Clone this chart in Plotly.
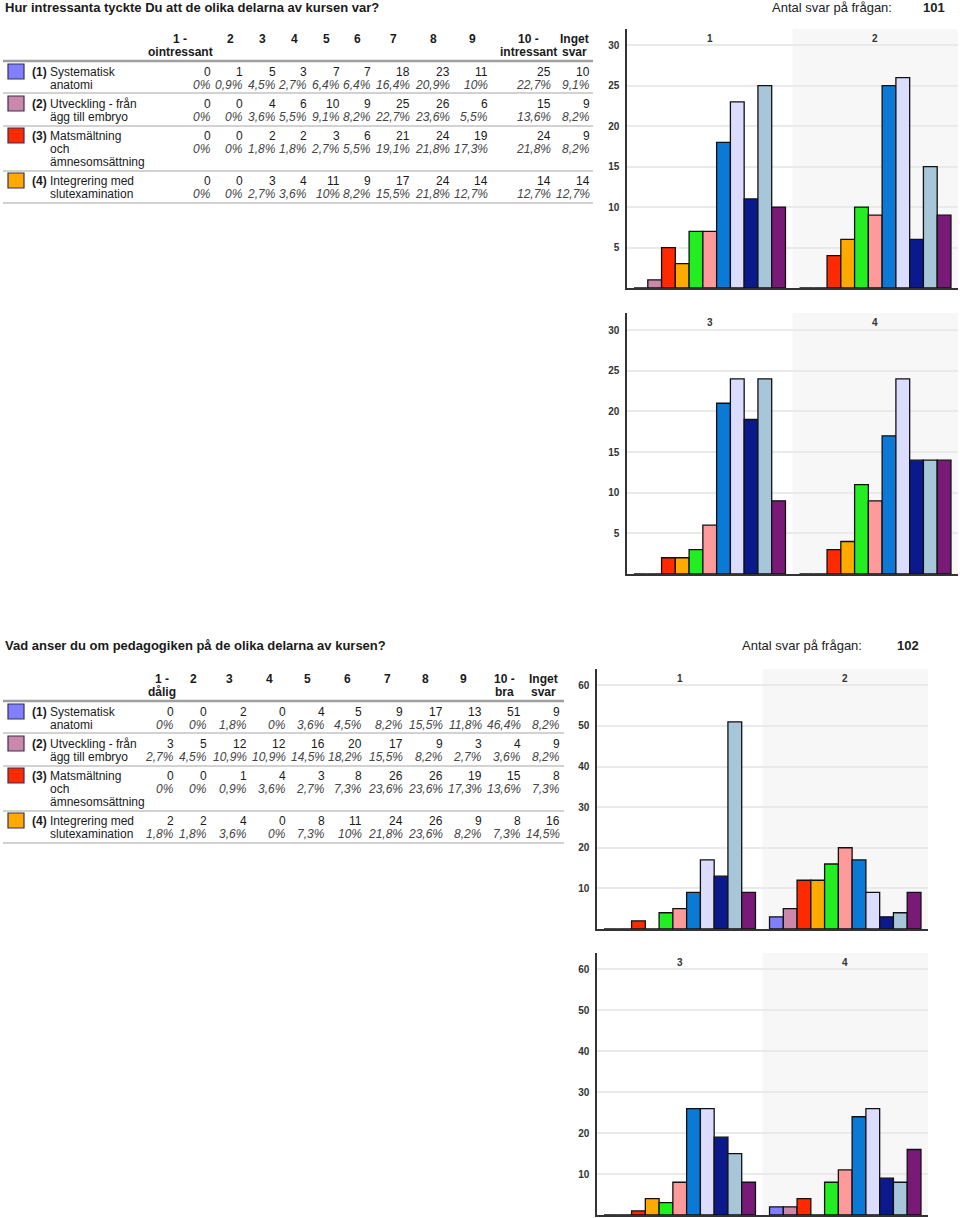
import plotly.graph_objects as go

W, H = 960, 1218

# ---------------- data ----------------
questions = [
    "Hur intressanta tyckte Du att de olika delarna av kursen var?",
    "Vad anser du om pedagogiken på de olika delarna av kursen?",
]
answer_counts_total = ["101", "102"]

header_top = [
    ["1 -", "2", "3", "4", "5", "6", "7", "8", "9", "10 -", "Inget"],
    ["1 -", "2", "3", "4", "5", "6", "7", "8", "9", "10 -", "Inget"],
]
header_bot = [
    ["ointressant", "", "", "", "", "", "", "", "", "intressant", "svar"],
    ["dålig", "", "", "", "", "", "", "", "", "bra", "svar"],
]

section_ids = ["(1)", "(2)", "(3)", "(4)"]
section_names = [
    ["Systematisk", "anatomi"],
    ["Utveckling - från", "ägg till embryo"],
    ["Matsmältning", "och", "ämnesomsättning"],
    ["Integrering med", "slutexamination"],
]
panel_labels = ["1", "2", "3", "4"]

q1_counts = [
    [0, 1, 5, 3, 7, 7, 18, 23, 11, 25, 10],
    [0, 0, 4, 6, 10, 9, 25, 26, 6, 15, 9],
    [0, 0, 2, 2, 3, 6, 21, 24, 19, 24, 9],
    [0, 0, 3, 4, 11, 9, 17, 24, 14, 14, 14],
]
q1_pct = [
    ["0%", "0,9%", "4,5%", "2,7%", "6,4%", "6,4%", "16,4%", "20,9%", "10%", "22,7%", "9,1%"],
    ["0%", "0%", "3,6%", "5,5%", "9,1%", "8,2%", "22,7%", "23,6%", "5,5%", "13,6%", "8,2%"],
    ["0%", "0%", "1,8%", "1,8%", "2,7%", "5,5%", "19,1%", "21,8%", "17,3%", "21,8%", "8,2%"],
    ["0%", "0%", "2,7%", "3,6%", "10%", "8,2%", "15,5%", "21,8%", "12,7%", "12,7%", "12,7%"],
]
q2_counts = [
    [0, 0, 2, 0, 4, 5, 9, 17, 13, 51, 9],
    [3, 5, 12, 12, 16, 20, 17, 9, 3, 4, 9],
    [0, 0, 1, 4, 3, 8, 26, 26, 19, 15, 8],
    [2, 2, 4, 0, 8, 11, 24, 26, 9, 8, 16],
]
q2_pct = [
    ["0%", "0%", "1,8%", "0%", "3,6%", "4,5%", "8,2%", "15,5%", "11,8%", "46,4%", "8,2%"],
    ["2,7%", "4,5%", "10,9%", "10,9%", "14,5%", "18,2%", "15,5%", "8,2%", "2,7%", "3,6%", "8,2%"],
    ["0%", "0%", "0,9%", "3,6%", "2,7%", "7,3%", "23,6%", "23,6%", "17,3%", "13,6%", "7,3%"],
    ["1,8%", "1,8%", "3,6%", "0%", "7,3%", "10%", "21,8%", "23,6%", "8,2%", "7,3%", "14,5%"],
]
counts = [q1_counts, q2_counts]
pcts = [q1_pct, q2_pct]

# ---------------- styles ----------------
cat_colors = ["#8080ff", "#cc88aa", "#ff2a00", "#ffaa00", "#22ee22", "#ff9a9a",
              "#0a7ad6", "#dcdcff", "#0a1a8c", "#a8c6da", "#7a1a78"]
FONT = "Liberation Sans, Arial, sans-serif"
NARROW = "Liberation Sans Narrow, Arial Narrow, Liberation Sans, sans-serif"

def px(x):
    return x / W

def py(y):
    return 1 - y / H

# layout geometry in pixels
q_off = [0, 640]
col_right = [
    [212, 244, 277, 308, 341, 372, 411, 451, 489, 552, 591],
    [175, 208, 248, 287, 326, 363, 404, 444, 483, 522, 561],
]
col_center = [
    [180, 230, 262, 294, 326, 357, 393, 433, 472, 528, 574],
    [162, 193, 229, 269, 307, 347, 387, 425, 463, 505, 543],
]
table_right = [593, 564]
row_y = [72, 104, 136, 181]
sep_y = [93, 126, 171, 203]

# chart geometry: (x0, x1, ytop, ybottom)
charts = [
    (627, 958, 29, 288),
    (627, 958, 313, 574),
    (597, 928, 669, 929),
    (597, 928, 953, 1215),
]
yranges = [[0, 32], [0, 32.1], [0, 64], [0, 64]]
ytick_sets = [[5, 10, 15, 20, 25, 30], [5, 10, 15, 20, 25, 30],
              [10, 20, 30, 40, 50, 60], [10, 20, 30, 40, 50, 60]]

fig = go.Figure()
annotations = []
shapes = []

def text(x, y, t, size=12, anchor="left", bold=False, italic=False, color="#1a1a1a", family=FONT):
    annotations.append(dict(
        x=px(x), y=py(y), xref="paper", yref="paper", text=t, showarrow=False,
        xanchor=anchor, yanchor="middle",
        font=dict(family=family, size=size, color=color,
                  weight="bold" if bold else "normal",
                  style="italic" if italic else "normal"),
    ))

for q in range(2):
    o = q_off[q]
    tyo = 8 if q == 0 else 645
    text(3, tyo, questions[q], size=13, bold=True)
    ax = 770 if q == 0 else 740
    nx = 947 if q == 0 else 921
    text(ax, tyo, "Antal svar på frågan:", size=13, color="#222")
    text(nx, tyo, answer_counts_total[q], size=13, bold=True, anchor="right", color="#222")

    # header
    for j in range(11):
        text(col_center[q][j], 39 + o, header_top[q][j], bold=True, anchor="center")
        if header_bot[q][j]:
            text(col_center[q][j], 52 + o, header_bot[q][j], bold=True, anchor="center")
    shapes.append(dict(type="line", xref="paper", yref="paper",
                       x0=px(3), x1=px(table_right[q]), y0=py(61 + o), y1=py(61 + o),
                       line=dict(color="#a0a0a0", width=2.5)))
    for r in range(4):
        yy = row_y[r] + o
        shapes.append(dict(type="rect", xref="paper", yref="paper",
                           x0=px(8), x1=px(24), y0=py(yy - 8), y1=py(yy + 7),
                           fillcolor=cat_colors[r], line=dict(color="#333355", width=1.2)))
        text(30, yy, section_ids[r], bold=True)
        for li, ln in enumerate(section_names[r]):
            text(48, yy + 13 * li, ln)
        for j in range(11):
            text(col_right[q][j] + 1, yy, str(counts[q][r][j]), anchor="right")
            text(col_right[q][j] + 1, yy + 13, pcts[q][r][j], anchor="right", italic=True, color="#444")
        sy = sep_y[r] + o
        shapes.append(dict(type="line", xref="paper", yref="paper",
                           x0=px(3), x1=px(table_right[q]), y0=py(sy), y1=py(sy),
                           line=dict(color="#d2d2d2", width=2)))

# ---------------- bar charts ----------------
for c in range(4):
    q = c // 2
    pair = [2 * (c % 2), 2 * (c % 2) + 1]
    names = [panel_labels[s] for s in pair]
    xa = "x" if c == 0 else f"x{c+1}"
    ya = "y" if c == 0 else f"y{c+1}"
    for k in range(11):
        fig.add_trace(go.Bar(
            x=names, y=[counts[q][s][k] for s in pair],
            marker=dict(color=cat_colors[k], line=dict(color="#111111", width=1.3)),
            xaxis=xa, yaxis=ya, showlegend=False, hoverinfo="skip",
        ))
    x0, x1, yt, yb = charts[c]
    suffix = "" if c == 0 else str(c + 1)
    fig.layout["xaxis" + suffix] = dict(
        domain=[px(x0), px(x1)], anchor=ya, range=[-0.5, 1.5], type="category",
        showticklabels=False, showline=True, linecolor="#333", linewidth=1.5,
        showgrid=False, zeroline=False, fixedrange=True,
    )
    fig.layout["yaxis" + suffix] = dict(
        domain=[py(yb), py(yt)], anchor=xa, range=yranges[c],
        tickvals=ytick_sets[c], showline=True, linecolor="#333", linewidth=1.5,
        showgrid=True, gridcolor="#eaeaea", gridwidth=1.5, zeroline=False,
        tickfont=dict(family=NARROW, size=10, color="#333", weight="bold"),
        ticks="", ticklabelstandoff=4, fixedrange=True,
    )
    # shaded second panel
    shapes.append(dict(type="rect", xref=xa, yref=ya + " domain", x0=0.5, x1=1.5, y0=0, y1=1,
                       fillcolor="#f7f7f7", line=dict(width=0), layer="below"))
    for i, nm in enumerate(names):
        annotations.append(dict(
            x=i, y=0.965, xref=xa, yref=ya + " domain", text=nm, showarrow=False,
            xanchor="center", yanchor="middle",
            font=dict(family=NARROW, size=10, color="#333", weight="bold"),
        ))

fig.update_layout(
    width=W, height=H, autosize=False,
    margin=dict(l=0, r=0, t=0, b=0),
    paper_bgcolor="white", plot_bgcolor="rgba(0,0,0,0)",
    barmode="group", bargap=0.085, bargroupgap=0,
    annotations=annotations, shapes=shapes,
    showlegend=False,
)

fig.write_html("out.html", config={"displayModeBar": False},
               post_script="document.body.style.margin='0';")
